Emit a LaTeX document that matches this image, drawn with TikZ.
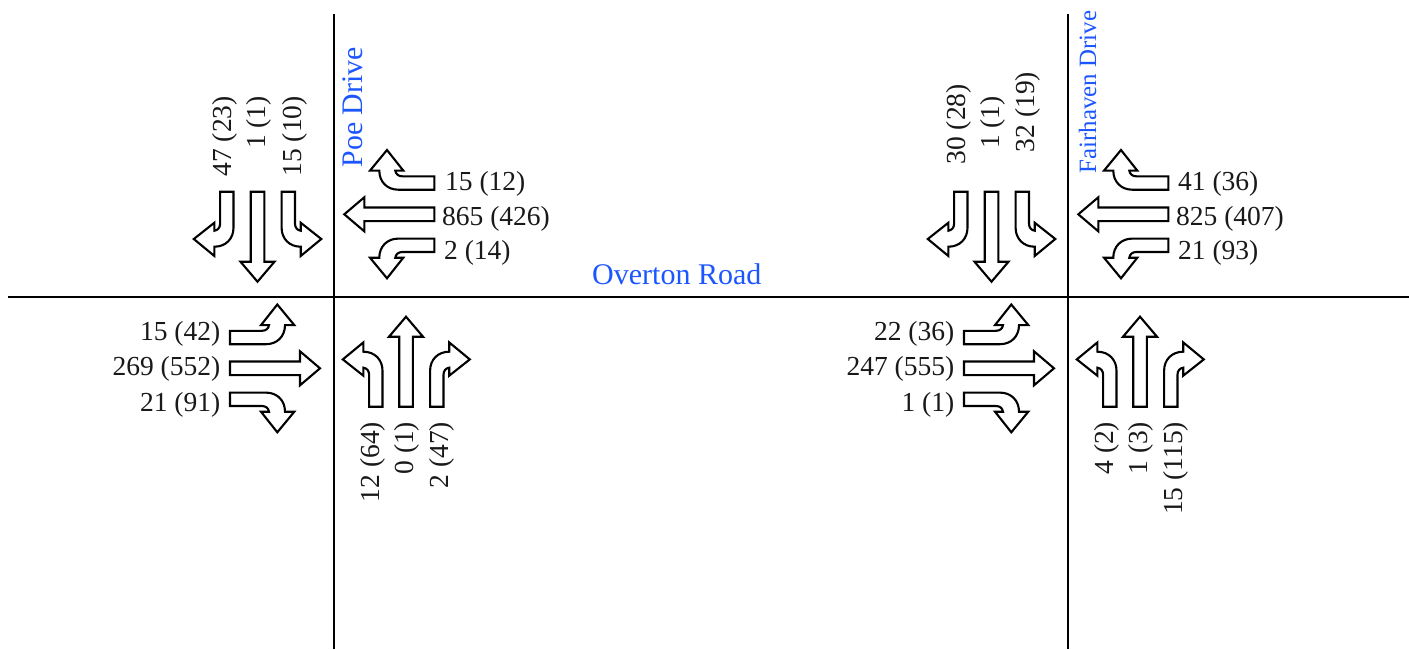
\documentclass[tikz,border=0pt]{standalone}
\usepackage{fontspec}
\setmainfont{Liberation Serif}
\definecolor{roadblue}{RGB}{28,86,255}
\tikzset{
  road/.style={draw=black,line width=2.2pt},
  arrowline/.style={draw=black,fill=white,line width=2.1pt,line join=miter},
  turnarrow/.pic={
    \path[arrowline] (-6.7,0) -- (-6.7,36) .. controls (-6.7,47) and (1,55) .. (12.4,55)
      -- (12.4,64.3) -- (33,47.3) -- (12.4,31) -- (12.4,39)
      .. controls (9,38.5) and (6.7,36) .. (6.7,32) -- (6.7,0) -- cycle;
  },
  thruarrow/.pic={
    \path[arrowline] (-6.8,0) -- (-6.8,70) -- (-17,70) -- (0,90) -- (17,70) -- (6.8,70) -- (6.8,0) -- cycle;
  },
  countlabel/.style={inner sep=0pt,font=\fontsize{27.5}{30}\selectfont,text=black!90},
  upcount/.style={countlabel,rotate=90,anchor=base east},
  rightcount/.style={countlabel,anchor=base east},
  leftcount/.style={countlabel,anchor=base west},
  roadname/.style={inner sep=0pt,text=roadblue,anchor=base west}
}
\newcommand{\armset}{%
  % southbound
  \pic[xscale=-1] at (226.8,191.7) {turnarrow};
  \pic at (257.5,191.7) {thruarrow};
  \pic at (288.3,191.7) {turnarrow};
  % westbound
  \pic[rotate=-90,xscale=-1] at (434.3,183) {turnarrow};
  \pic[rotate=-90] at (434.3,214.3) {thruarrow};
  \pic[rotate=-90] at (434.3,245.3) {turnarrow};
  % eastbound
  \pic[rotate=90] at (230,337.5) {turnarrow};
  \pic[rotate=90] at (230,368.3) {thruarrow};
  \pic[rotate=90,xscale=-1] at (230,399.3) {turnarrow};
  % northbound
  \pic[rotate=180] at (375.8,406.7) {turnarrow};
  \pic[rotate=180] at (406,406.7) {thruarrow};
  \pic[rotate=180,xscale=-1] at (436.8,406.7) {turnarrow};
}
\begin{document}
\begin{tikzpicture}[x=1pt,y=-1pt]
\useasboundingbox (0,0) rectangle (1409,649);
\fill[white] (0,0) rectangle (1409,649);
% roads
\coordinate (hw) at (8,297);
\coordinate (he) at (1409,297);
\coordinate (pn) at (334,14);
\coordinate (ps) at (334,649);
\coordinate (fn) at (1068,14);
\coordinate (fs) at (1068,649);
\draw[road] (hw) -- (he);
\draw[road] (pn) -- (ps);
\draw[road] (fn) -- (fs);
% arrows
\armset
\begin{scope}[xshift=734pt]
\armset
\end{scope}
% road names
\node[roadname,font=\fontsize{30}{32}\selectfont] (overton) at (592,284.3) {Overton Road};
\node[roadname,rotate=90,font=\fontsize{29.8}{32}\selectfont] (poe) at (362,167.5) {Poe Drive};
\node[roadname,rotate=90,font=\fontsize{24.9}{27}\selectfont] (fairhaven) at (1096,173.5) {Fairhaven Drive};
% Poe Drive counts
\node[upcount] (ps1) at (231.7,96) {47 (23)};
\node[upcount] (ps2) at (265.7,96) {1 (1)};
\node[upcount] (ps3) at (301,96) {15 (10)};
\node[leftcount] (pw1) at (445,190) {15 (12)};
\node[leftcount] (pw2) at (442,225) {865 (426)};
\node[leftcount] (pw3) at (444,259) {2 (14)};
\node[rightcount] (pe1) at (220.5,340.7) {15 (42)};
\node[rightcount] (pe2) at (220.5,375.7) {269 (552)};
\node[rightcount] (pe3) at (220.5,411) {21 (91)};
\node[upcount] (pn1) at (379.3,421.7) {12 (64)};
\node[upcount] (pn2) at (413,421.7) {0 (1)};
\node[upcount] (pn3) at (448,421.7) {2 (47)};
% Fairhaven Drive counts
\node[upcount] (fs1) at (965,84) {30 (28)};
\node[upcount] (fs2) at (999,96) {1 (1)};
\node[upcount] (fs3) at (1034,71.7) {32 (19)};
\node[leftcount] (fw1) at (1178,190) {41 (36)};
\node[leftcount] (fw2) at (1176,225) {825 (407)};
\node[leftcount] (fw3) at (1178,259) {21 (93)};
\node[rightcount] (fe1) at (954.5,340.7) {22 (36)};
\node[rightcount] (fe2) at (954.5,375.7) {247 (555)};
\node[rightcount] (fe3) at (954.5,411) {1 (1)};
\node[upcount] (fn1) at (1113,421.7) {4 (2)};
\node[upcount] (fn2) at (1147.7,421.7) {1 (3)};
\node[upcount] (fn3) at (1182.7,421.7) {15 (115)};
\end{tikzpicture}
\end{document}
